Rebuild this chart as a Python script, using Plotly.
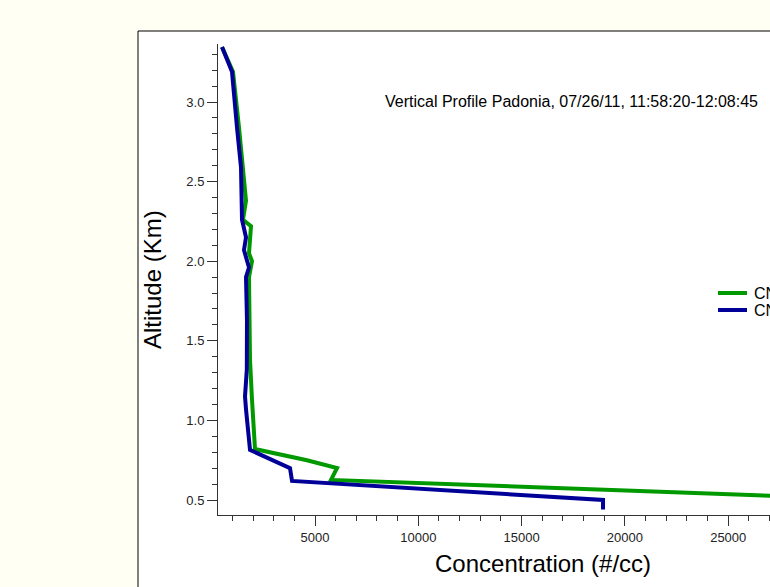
import plotly.graph_objects as go

# Data
blue_conc = [500, 983, 1225, 1418, 1467, 1660, 1563, 1805, 1660, 1708, 1700, 1612, 1660, 1854, 3790, 3887, 18940, 18940]
blue_alt = [3.345, 3.19, 2.84, 2.59, 2.26, 2.15, 2.07, 1.96, 1.90, 1.63, 1.32, 1.15, 1.07, 0.815, 0.70, 0.62, 0.50, 0.44]
green_conc = [500, 1031, 1321, 1515, 1660, 1515, 1902, 1805, 1950, 1805, 1854, 1854, 1950, 2000, 2096, 4613, 6065, 5775, 27020, 35000]
green_alt = [3.345, 3.19, 2.84, 2.59, 2.38, 2.26, 2.22, 2.05, 2.00, 1.90, 1.63, 1.38, 1.13, 1.0, 0.82, 0.75, 0.70, 0.626, 0.525, 0.49]
series_names = ["CN (CPC 3010)", "CN (CPC 3025)"]
series_colors = ["#009900", "#000099"]
title_text = "Vertical Profile Padonia, 07/26/11, 11:58:20-12:08:45"
x_title = "Concentration (#/cc)"
y_title = "Altitude (Km)"

W, H = 770, 587
L, R, T, B = 218, 770, 44, 515
PW, PH = R - L, B - T

def px(x):
    return (x - L) / PW

def py(y):
    return (B - y) / PH

fig = go.Figure()
fig.add_trace(go.Scatter(x=green_conc, y=green_alt, mode="lines", name=series_names[0],
                         line=dict(color=series_colors[0], width=4), showlegend=False))
fig.add_trace(go.Scatter(x=blue_conc, y=blue_alt, mode="lines", name=series_names[1],
                         line=dict(color=series_colors[1], width=4), showlegend=False))

font = "Liberation Sans, Arial, sans-serif"
axis_common = dict(showgrid=False, zeroline=False, showline=True, linecolor="#333333", linewidth=1,
                   ticks="outside", ticklen=10, tickcolor="#333333", tickwidth=1,
                   tickfont=dict(family=font, size=13, color="#222222"), automargin=False)

fig.update_xaxes(range=[(L - 211.7) * 48.4, (R - 211.7) * 48.4], tickvals=[5000, 10000, 15000, 20000, 25000],
                 ticktext=["5000", "10000", "15000", "20000", "25000"],
                 minor=dict(dtick=1000, ticks="outside", ticklen=5, tickcolor="#333333"),
                 **axis_common)
fig.update_yaxes(range=[(579.6 - B) / 159.2, (579.6 - T) / 159.2], tickvals=[0.5, 1.0, 1.5, 2.0, 2.5, 3.0],
                 ticktext=["0.5", "1.0", "1.5", "2.0", "2.5", "3.0"],
                 minor=dict(dtick=0.1, ticks="outside", ticklen=5, tickcolor="#333333"),
                 **axis_common)

fig.add_shape(type="rect", xref="paper", yref="paper", x0=px(138), x1=px(900), y0=py(700), y1=py(31),
              line=dict(color="#000000", width=1), fillcolor="#ffffff", layer="below")

fig.add_annotation(text=title_text, xref="paper", yref="paper", x=px(571), y=py(102), showarrow=False,
                   font=dict(family=font, size=16, color="#000000"), xanchor="center", yanchor="middle")
fig.add_annotation(text=x_title, xref="paper", yref="paper", x=px(543), y=py(563), showarrow=False,
                   font=dict(family=font, size=24, color="#000000"), xanchor="center", yanchor="middle")
fig.add_annotation(text=y_title, xref="paper", yref="paper", x=px(152), y=py(280), showarrow=False,
                   textangle=-90,
                   font=dict(family=font, size=24, color="#000000"), xanchor="center", yanchor="middle")

# Legend drawn by hand (the reference's legend runs off the right edge)
for i, (name, color) in enumerate(zip(series_names, series_colors)):
    yy = 293 + 17 * i
    fig.add_shape(type="line", xref="paper", yref="paper", x0=px(718), x1=px(747), y0=py(yy), y1=py(yy),
                  line=dict(color=color, width=4))
    fig.add_annotation(text=name, xref="paper", yref="paper", x=px(752), y=py(yy), showarrow=False,
                       font=dict(family=font, size=16, color="#000000"), xanchor="left", yanchor="middle")

fig.update_layout(width=W, height=H, margin=dict(l=L, r=W - R, t=T, b=H - B, autoexpand=False),
                  paper_bgcolor="#fffff4", plot_bgcolor="rgba(0,0,0,0)", showlegend=False)

fig.write_html("out.html")
